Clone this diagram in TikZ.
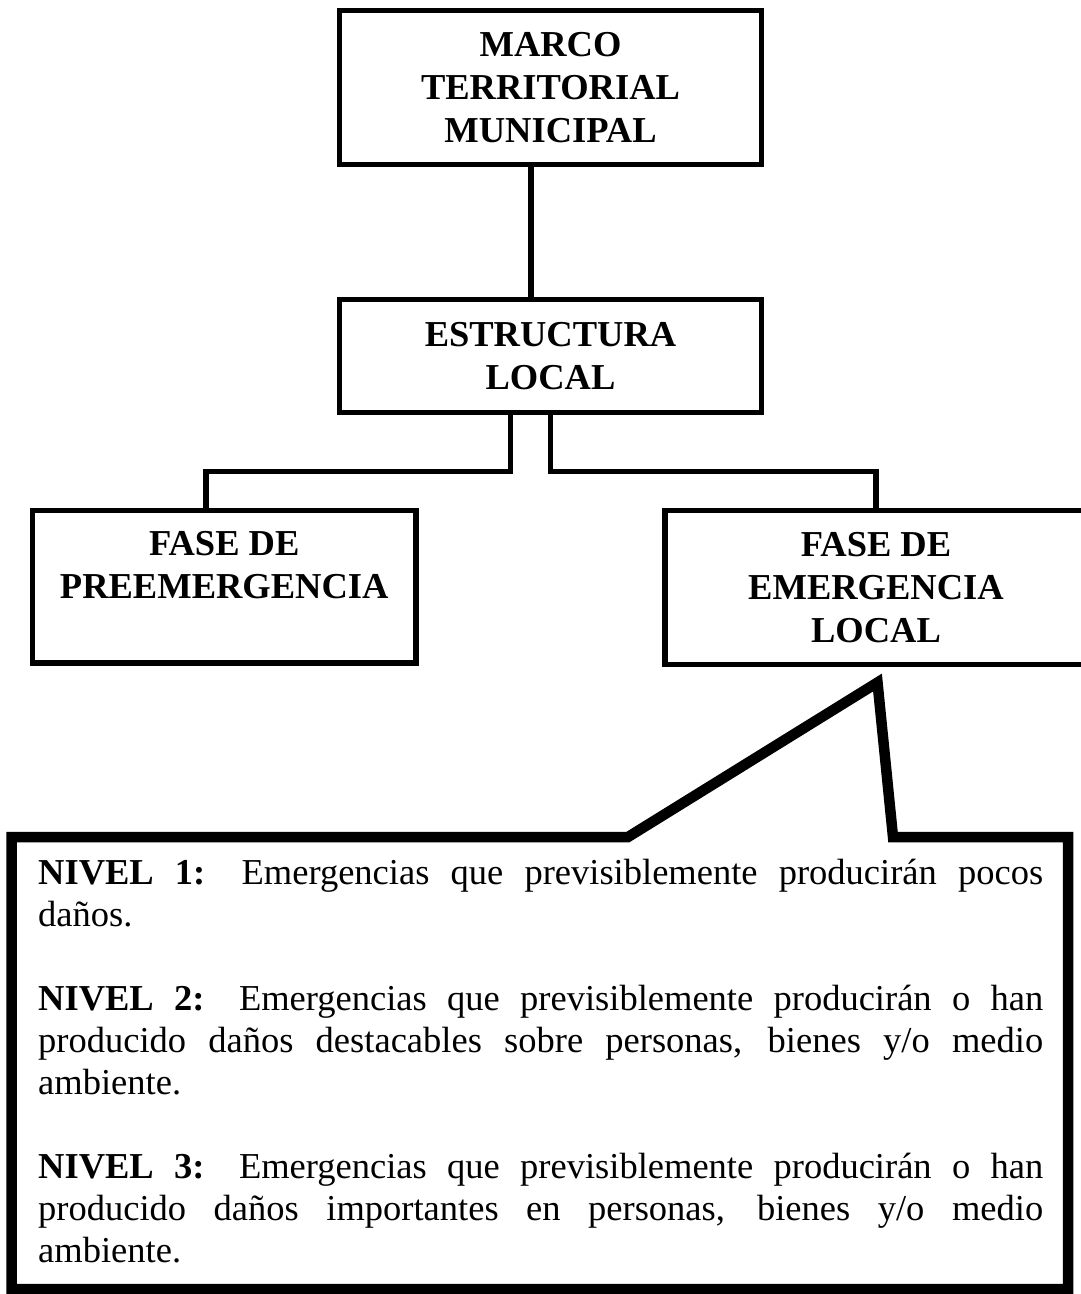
\documentclass[tikz,border=0pt]{standalone}
\usepackage{fontspec}
\setmainfont{Liberation Serif}
\begin{document}
\begin{tikzpicture}[x=1pt,y=-1pt,
  box/.style={draw, line width=5.5pt, inner sep=0pt, align=center,
    font=\fontsize{36.5}{43}\selectfont\bfseries},
  link/.style={line width=5.5pt, line join=miter},
  callout/.style={line width=10.5pt, line join=miter},
  bodytext/.style={inner sep=0pt, text width=1005pt, align=justify,
    font=\fontsize{36.5}{42}\selectfont}]
\useasboundingbox (0,0) rectangle (1081,1294);
\clip (0,0) rectangle (1081,1294);

% boxes
\node[box, minimum width=422pt, minimum height=154pt] (marco) at (550.5,87.5)
  {MARCO\\TERRITORIAL\\MUNICIPAL};
\node[box, minimum width=422pt, minimum height=113pt] (estr) at (550.5,356)
  {ESTRUCTURA\\LOCAL};
\node[box, minimum width=383.5pt, minimum height=152.5pt] (pre) at (224.25,586.75)
  {FASE DE\\PREEMERGENCIA\\\mbox{}};
\node[box, minimum width=422pt, minimum height=154pt] (emer) at (876,587.5)
  {FASE DE\\EMERGENCIA\\LOCAL};

% connectors
\coordinate (jl) at (206,471.5);
\coordinate (jr) at (550.5,471.5);
\draw[link] ([xshift=-19.5pt]marco.south) -- ([xshift=-19.5pt]estr.north);
\draw[link] ([xshift=-40pt]estr.south) |- (jl) -- ([xshift=-18.25pt]pre.north);
\draw[link] (estr.south) -- (jr) -| (emer.north);

% callout
\draw[callout] (11.5,837) -- (628,837) -- (877.5,682.5) -- (893,837)
  -- (1068,837) -- (1068,1289) -- (11.5,1289) -- cycle;

\node[bodytext, anchor=base west] (niveles) at (38,884) {%
  \tolerance=10000 \hbadness=10000 \hyphenpenalty=10000 \exhyphenpenalty=10000
  \textbf{NIVEL 1:} Emergencias que previsiblemente producirán pocos\linebreak
  daños.\par\vskip42pt
  \textbf{NIVEL 2:} Emergencias que previsiblemente producirán o han\linebreak
  producido daños destacables sobre personas, bienes y/o medio\linebreak
  ambiente.\par\vskip42pt
  \textbf{NIVEL 3:} Emergencias que previsiblemente producirán o han\linebreak
  producido daños importantes en personas, bienes y/o medio\linebreak
  ambiente.};
\end{tikzpicture}
\end{document}
